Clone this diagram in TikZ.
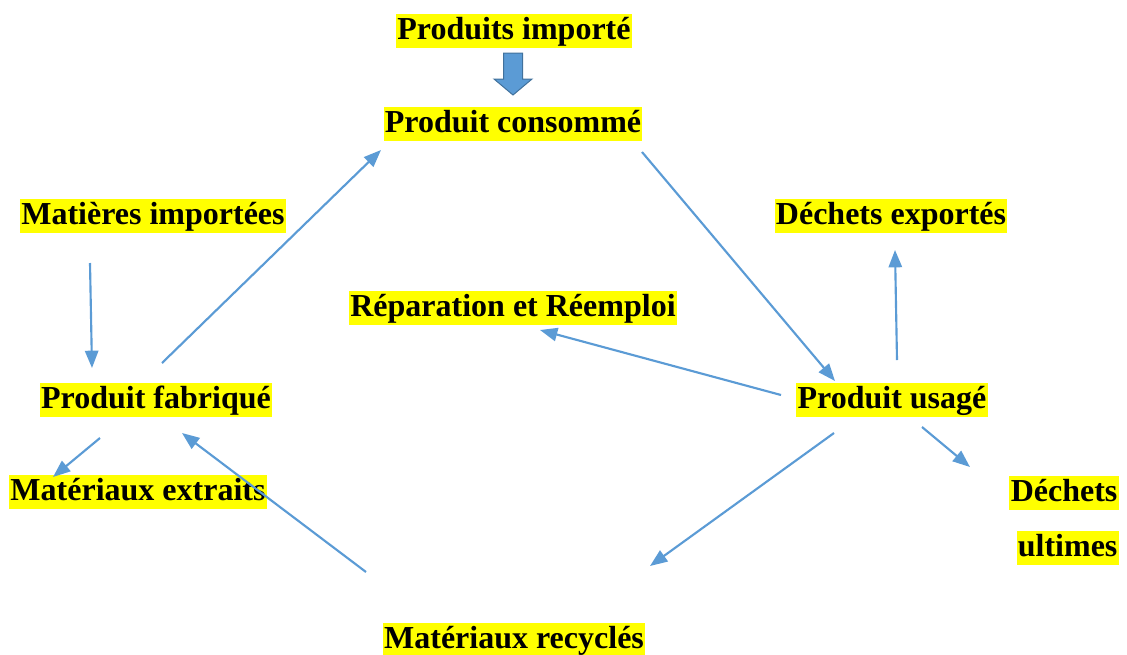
\documentclass[tikz,border=0pt]{standalone}
\usepackage{fontspec}
\setmainfont{Liberation Serif}
\usetikzlibrary{arrows.meta}
\definecolor{arrowblue}{HTML}{5B9BD5}
\definecolor{arrowedge}{HTML}{41719C}
\definecolor{hl}{HTML}{FFFF00}
\begin{document}
\begin{tikzpicture}[x=0.75pt,y=-0.75pt,
  lbl/.style={fill=hl,font=\fontsize{24}{28}\selectfont\bfseries,inner xsep=1pt,inner ysep=0.75pt,text height=18pt,text depth=6pt},
  flow/.style={draw=arrowblue,line width=1.6pt,-{Triangle[length=13pt,width=10pt]}}]
\useasboundingbox (0,0) rectangle (1127,654);
% nodes
\node[lbl] (imp) at (514,31) {Produits importé};
\node[lbl] (cons) at (513,124) {Produit consommé};
\node[lbl] (matimp) at (153,216) {Matières importées};
\node[lbl] (dexp) at (891,216) {Déchets exportés};
\node[lbl] (rep) at (513,308) {Réparation et Réemploi};
\node[lbl] (fab) at (156,400) {Produit fabriqué};
\node[lbl] (usa) at (892,400) {Produit usagé};
\node[lbl] (extr) at (138,492) {Matériaux extraits};
\node[lbl,anchor=east] (dech) at (1119,493) {Déchets};
\node[lbl,anchor=east] (ult) at (1119,548) {ultimes};
\node[lbl] (recy) at (514,640) {Matériaux recyclés};
% block arrow
\fill[arrowblue,draw=arrowedge,line width=0.75pt]
  (503.5,53) -- (522.5,53) -- (522.5,79) -- (532,79) -- (513,95) -- (494,79) -- (503.5,79) -- cycle;
% connector end points
\coordinate (a1s) at (90,263);   \coordinate (a1e) at (92,368);
\coordinate (a2s) at (162,363);  \coordinate (a2e) at (381,150);
\coordinate (a3s) at (642,152);  \coordinate (a3e) at (835,381);
\coordinate (a4s) at (897,360);  \coordinate (a4e) at (895,250);
\coordinate (a5s) at (781,395);  \coordinate (a5e) at (540,330);
\coordinate (a6s) at (100,438);  \coordinate (a6e) at (53,477);
\coordinate (a7s) at (366,572);  \coordinate (a7e) at (182,433);
\coordinate (a8s) at (834,433);  \coordinate (a8e) at (650,566);
\coordinate (a9s) at (922,427);  \coordinate (a9e) at (970,467);
\draw[flow] (a1s) -- (a1e);
\draw[flow] (a2s) -- (a2e);
\draw[flow] (a3s) -- (a3e);
\draw[flow] (a4s) -- (a4e);
\draw[flow] (a5s) -- (a5e);
\draw[flow] (a6s) -- (a6e);
\draw[flow] (a7s) -- (a7e);
\draw[flow] (a8s) -- (a8e);
\draw[flow] (a9s) -- (a9e);
\end{tikzpicture}
\end{document}
